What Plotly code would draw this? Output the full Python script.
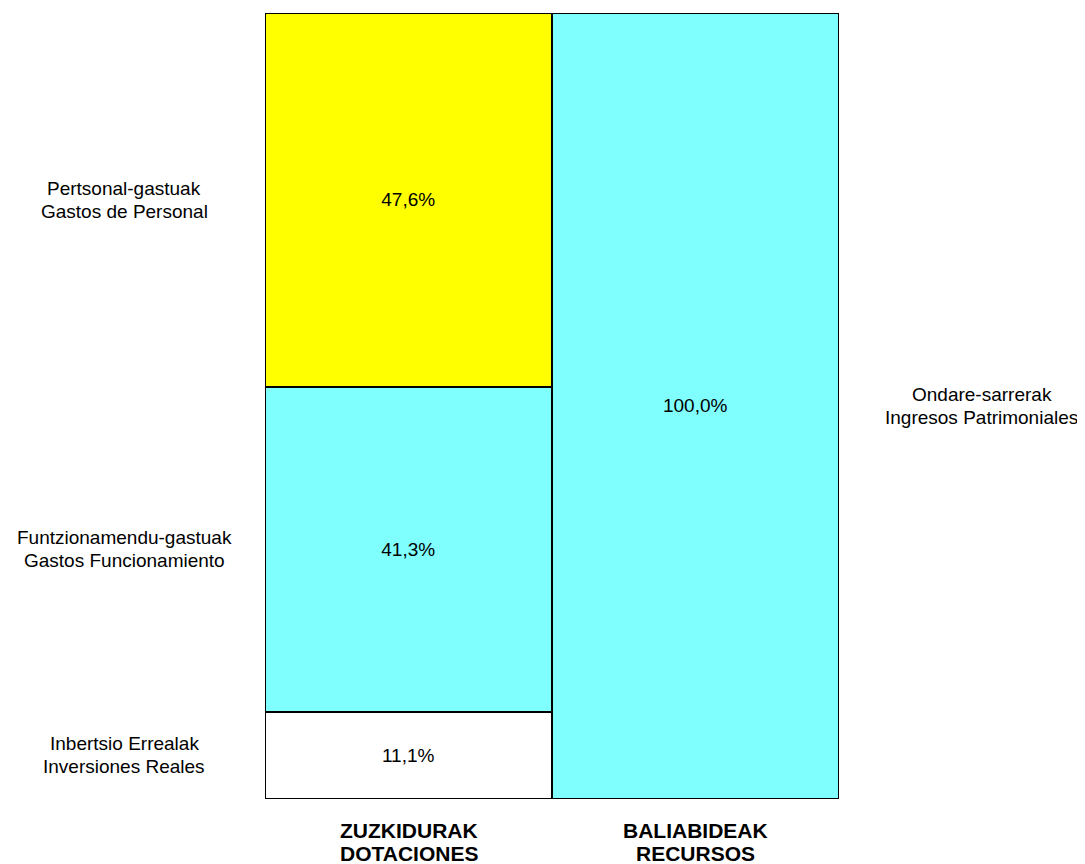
import plotly.graph_objects as go

categories = [["ZUZKIDURAK", "DOTACIONES"], ["BALIABIDEAK", "RECURSOS"]]
left_segments = [["Inbertsio Errealak", "Inversiones Reales"],
                 ["Funtzionamendu-gastuak", "Gastos Funcionamiento"],
                 ["Pertsonal-gastuak", "Gastos de Personal"]]
left_values = [11.1, 41.3, 47.6]
left_colors = ["#FFFFFF", "#80FFFF", "#FFFF00"]
right_segments = [["Ondare-sarrerak", "Ingresos Patrimoniales"]]
right_values = [100.0]
right_colors = ["#80FFFF"]

FONT = "Liberation Sans, Arial, sans-serif"
SIZE = 19
BSIZE = 21

def fmt(v):
    return f"{v:.1f}%".replace(".", ",")

fig = go.Figure()
for name, v, c in zip(left_segments, left_values, left_colors):
    fig.add_trace(go.Bar(x=[0], y=[v], width=1, marker=dict(color=c, line=dict(color="black", width=2.5)),
                         text=[fmt(v)], textposition="inside", insidetextanchor="middle",
                         textfont=dict(family=FONT, size=SIZE, color="black"), name=" ".join(name), showlegend=False))
for name, v, c in zip(right_segments, right_values, right_colors):
    fig.add_trace(go.Bar(x=[1], y=[v], width=1, marker=dict(color=c, line=dict(color="black", width=2.5)),
                         text=[fmt(v)], textposition="inside", insidetextanchor="middle",
                         textfont=dict(family=FONT, size=SIZE, color="black"), name=" ".join(name), showlegend=False))

annotations = []

def add_lines(lines, x, xref, y, yref, base_shift, step, size, bold=False):
    n = len(lines)
    for k, line in enumerate(lines):
        shift = base_shift + step * ((n - 1) / 2 - k)
        annotations.append(dict(x=x, xref=xref, y=y, yref=yref, yshift=shift,
                                text=("<b>" + line + "</b>") if bold else line,
                                showarrow=False, xanchor="center", yanchor="middle",
                                font=dict(family=FONT, size=size, color="black")))

cum = 0
for name, v in zip(left_segments, left_values):
    add_lines(name, -0.2456, "paper", cum + v / 2, "y", 0, 23, SIZE)
    cum += v
cum = 0
for name, v in zip(right_segments, right_values):
    add_lines(name, 1.249, "paper", cum + v / 2, "y", 0, 23, SIZE)
    cum += v
for i, cat in enumerate(categories):
    add_lines(cat, i, "x", 0, "paper", -42.5, 23, BSIZE, bold=True)

fig.update_layout(
    barmode="stack", bargap=0,
    width=1077, height=856,
    margin=dict(l=257, r=246, t=5, b=65, autoexpand=False),
    plot_bgcolor="white", paper_bgcolor="white",
    xaxis=dict(range=[-0.5, 1.5], showticklabels=False, showgrid=False, zeroline=False, fixedrange=True),
    yaxis=dict(range=[0, 100], showticklabels=False, showgrid=False, zeroline=False),
    annotations=annotations,
)
fig.write_html("out.html")
